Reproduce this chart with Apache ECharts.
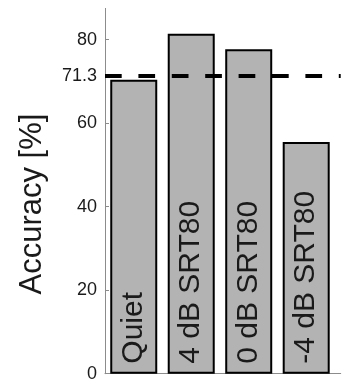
<!DOCTYPE html>
<html>
<head>
<meta charset="utf-8">
<script src="https://cdn.jsdelivr.net/npm/echarts@6/dist/echarts.min.js"></script>
<style>
  html, body { margin: 0; padding: 0; background: #fff; }
  #chart { width: 347px; height: 387px; }
</style>
</head>
<body>
<div id="chart"></div>
<script>
// Listening conditions and mean accuracy per condition
const categories = ['Quiet', '4 dB SRT80', '0 dB SRT80', '-4 dB SRT80'];
const accuracy = [70.4, 81.4, 77.7, 55.5];
// Reference level drawn as a dashed line
const referenceLevel = 71.3;
// Y-axis tick marks and labels
const tickValues = [0, 20, 40, 60, 80];
const labelValues = [0, 20, 40, 60, referenceLevel, 80];

const FONT = '"Liberation Sans", Arial, Helvetica, sans-serif';
const chart = echarts.init(document.getElementById('chart'), null, { renderer: 'canvas' });

// bars placed at 1..N on a value x axis
const barData = accuracy.map((v, i) => [i + 1, v]);

chart.setOption({
  animation: false,
  backgroundColor: '#ffffff',
  grid: { left: 105, right: 6.3, top: 8.4, bottom: 13.3, containLabel: false },
  xAxis: {
    type: 'value',
    min: 0.5,
    max: 4.6,
    axisLine: { show: true, lineStyle: { color: '#8c8c8c', width: 1 } },
    axisTick: { show: false },
    axisLabel: { show: false },
    splitLine: { show: false }
  },
  yAxis: {
    type: 'value',
    min: 0,
    max: 87.5,
    name: 'Accuracy [%]',
    nameLocation: 'middle',
    nameRotate: 90,
    nameGap: 57,
    nameTextStyle: { fontFamily: FONT, fontSize: 31, color: '#1a1a1a', padding: [0, 26, 0, 0] },
    axisLine: { show: true, lineStyle: { color: '#8c8c8c', width: 1 } },
    axisTick: { show: true, inside: true, length: 4, customValues: tickValues, lineStyle: { color: '#8c8c8c' } },
    axisLabel: {
      customValues: labelValues,
      margin: 8,
      fontFamily: FONT,
      fontSize: 18,
      color: '#1a1a1a',
      formatter: v => String(v)
    },
    splitLine: { show: false }
  },
  series: [{
    type: 'bar',
    data: barData,
    barWidth: 47,
    itemStyle: { color: '#b3b3b3', borderColor: '#000000', borderWidth: 2 },
    label: {
      show: true,
      position: 'insideBottom',
      rotate: 90,
      align: 'left',
      verticalAlign: 'middle',
      distance: 10,
      fontFamily: FONT,
      fontSize: 30,
      color: '#1a1a1a',
      formatter: p => categories[p.dataIndex]
    },
    markLine: {
      silent: true,
      symbol: 'none',
      label: { show: false },
      lineStyle: { color: '#000000', width: 4, type: [16.7, 16.7] },
      data: [{ yAxis: referenceLevel }]
    },
    z: 2
  }]
});
</script>
</body>
</html>
